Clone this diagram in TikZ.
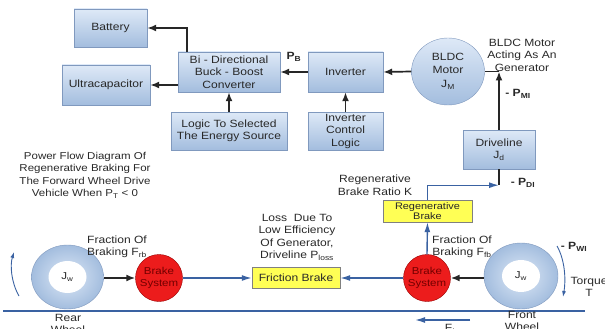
\documentclass[tikz,border=0pt]{standalone}
\usepackage{fontspec}
\setmainfont{Liberation Sans}[FakeStretch=1.15]
\usetikzlibrary{arrows.meta,shapes.geometric}

\definecolor{boxtop}{RGB}{222,233,247}
\definecolor{boxbot}{RGB}{163,189,222}
\definecolor{boxline}{RGB}{128,153,190}
\definecolor{flowblue}{RGB}{58,98,162}
\definecolor{brakered}{RGB}{236,28,28}
\definecolor{lossyellow}{RGB}{255,255,85}
\definecolor{txt}{RGB}{40,40,40}

\tikzset{
  block/.style={draw=boxline, top color=boxtop, bottom color=boxbot,
    align=center, text=txt, inner sep=1pt, font=\fontsize{10.5}{12.5}\selectfont},
  wheel/.style={ellipse, draw=boxline, inner color=boxtop, outer color=boxbot,
    minimum width=72pt, minimum height=64pt},
  hub/.style={ellipse, fill=white, text=txt, minimum width=38pt, minimum height=32pt, inner sep=0pt},
  brakebox/.style={circle, draw=red!60!black, fill=brakered, text=red!45!black,
    minimum size=47pt, inner sep=0pt, align=center},
  lossbox/.style={draw=gray, fill=lossyellow, text=txt, minimum width=88pt,
    minimum height=21pt, inner sep=0pt, align=center},
  powerline/.style={line width=1.7pt, black!85},
  powerarrow/.style={powerline, -{Latex[length=9pt,width=7pt]}},
  flowarrow/.style={line width=1.4pt, flowblue, -{Latex[length=10pt,width=6pt]}},
  note/.style={align=center, text=txt, inner sep=0pt},
  plabel/.style={text=txt, inner sep=0pt, font=\fontsize{10.5}{12}\selectfont\bfseries}
}

\begin{document}
\begin{tikzpicture}[x=1pt, y=-1pt, font=\fontsize{10}{12.5}\selectfont]
  \useasboundingbox (0,0) rectangle (605,329);
  \clip (0,0) rectangle (605,329);

  % energy storage side
  \node[block, minimum width=73pt, minimum height=38pt] (battery) at (110.5,28) {Battery};
  \node[block, minimum width=88pt, minimum height=40pt] (ultracap) at (106,85) {Ultracapacitor};
  \node[block, minimum width=102pt, minimum height=40pt] (conv) at (229,72)
    {Bi - Directional\\Buck - Boost\\Converter};
  \node[block, minimum width=116pt, minimum height=38pt] (logic) at (229,131)
    {Logic To Selected\\The Energy Source};
  \node[block, minimum width=75pt, minimum height=40pt] (inv) at (345.5,72) {Inverter};
  \node[block, minimum width=75pt, minimum height=38pt] (invlogic) at (345.5,131)
    {Inverter\\Control\\Logic};
  \node[block, ellipse, minimum width=73pt, minimum height=67pt, inner sep=0pt] (motor) at (448,71.5)
    {BLDC\\Motor\\[2pt]J\textsubscript{M}};
  \node[block, minimum width=72pt, minimum height=39pt] (driveline) at (499,149.5)
    {Driveline\\J\textsubscript{d}};

  \draw[powerarrow] ([xshift=-42pt]conv.north) |- (battery.east);
  \draw[powerarrow] (conv.west |- ultracap.east) -- (ultracap.east);
  \draw[powerarrow] (logic.north) -- (conv.south);
  \draw[powerarrow] (inv.west) -- (conv.east);
  \draw[powerarrow] (invlogic.north) -- (inv.south);
  \draw[powerarrow] (motor.west) -- (inv.east);
  \draw[powerline] (motor.east) -- (driveline.north |- motor.east);
  \draw[powerarrow] (driveline.north) -- (driveline.north |- motor.east);
  \draw[powerline] (driveline.south) -- ++(0,16);

  \node[plabel] (pb) at (294,57) {P\textsubscript{B}};
  \node[note, font=\fontsize{10.5}{12.5}\selectfont] (gen) at (522,55) {BLDC Motor\\Acting As An\\Generator};
  \node[plabel] (pmi) at (518,94) {- P\textsubscript{MI}};
  \node[plabel] (pdi) at (523,183) {- P\textsubscript{DI}};

  % braking side
  \node[note] (title) at (85,175)
    {Power Flow Diagram Of\\Regenerative Braking For\\The Forward Wheel Drive\\Vehicle When P\textsubscript{T} < 0};
  \node[lossbox, minimum width=89pt, minimum height=22pt, font=\fontsize{9.5}{10}\selectfont] (regen) at (427.5,211)
    {Regenerative\\Brake};
  \node[lossbox, font=\fontsize{10.5}{12}\selectfont] (friction) at (296,278) {Friction Brake};
  \node[brakebox] (brakeL) at (159,278) {Brake\\System};
  \node[brakebox] (brakeR) at (427,278) {Brake\\System};
  \node[wheel] (rearw) at (67.5,277) {};
  \node[hub] (rearhub) at (rearw) {J\textsubscript{w}};
  \node[wheel, minimum width=74pt, minimum height=66pt] (frontw) at (521,276) {};
  \node[hub] (fronthub) at (frontw) {J\textsubscript{w}};

  \draw[powerarrow] (rearw.east |- brakeL.west) -- (brakeL.west);
  \draw[flowarrow] (brakeL.east) -- (friction.west);
  \draw[powerarrow] (frontw.west |- brakeR.east) -- (brakeR.east);
  \draw[flowarrow] (brakeR.west) -- (friction.east);
  \draw[flowarrow] (brakeR.north) -- (regen.south);
  \draw[flowarrow] (regen.north) |- ([yshift=-16pt]driveline.south);

  \node[note, font=\fontsize{10.5}{12.5}\selectfont] (ratio) at (375,185) {Regenerative\\Brake Ratio K};
  \node[note, font=\fontsize{10.5}{12.5}\selectfont] (loss) at (297,237) {Loss \ Due To\\Low Efficiency\\Of Generator,\\Driveline P\textsubscript{loss}};
  \node[note, font=\fontsize{10.5}{12.5}\selectfont] (fracL) at (117,247) {Fraction Of\\Braking F\textsubscript{rb}};
  \node[note, font=\fontsize{10.5}{12.5}\selectfont] (fracR) at (462,247) {Fraction Of\\Braking F\textsubscript{fb}};
  \node[plabel] (pwi) at (574,247) {- P\textsubscript{WI}};
  \node[note, font=\fontsize{10.5}{12.5}\selectfont] (torque) at (589,287) {Torque\\T};

  % road and wheel rotation
  \draw[flowblue, line width=1.8pt] (3,311) -- (585,311);
  \draw[flowblue, line width=0.9pt, -{Latex[length=6pt,width=4pt]}]
    (19,296) .. controls (11,282) and (10,265) .. (14,252);
  \draw[flowblue, line width=0.9pt, -{Latex[length=6pt,width=4pt]}]
    (557,246) .. controls (565,260) and (566,280) .. (563,297);
  \draw[flowblue, line width=1.5pt, -{Latex[length=10pt,width=6pt]}] (470,320) -- (415,320);
  \node[note, anchor=north, font=\fontsize{10.5}{12.5}\selectfont] (ft) at (450,324) {F\textsubscript{t}};
  \node[note, anchor=north, font=\fontsize{10.5}{12.5}\selectfont] (rear) at (68,314) {Rear\\Wheel};
  \node[note, anchor=north, font=\fontsize{10.5}{12.5}\selectfont] (front) at (522,311) {Front\\Wheel};
\end{tikzpicture}
\end{document}
